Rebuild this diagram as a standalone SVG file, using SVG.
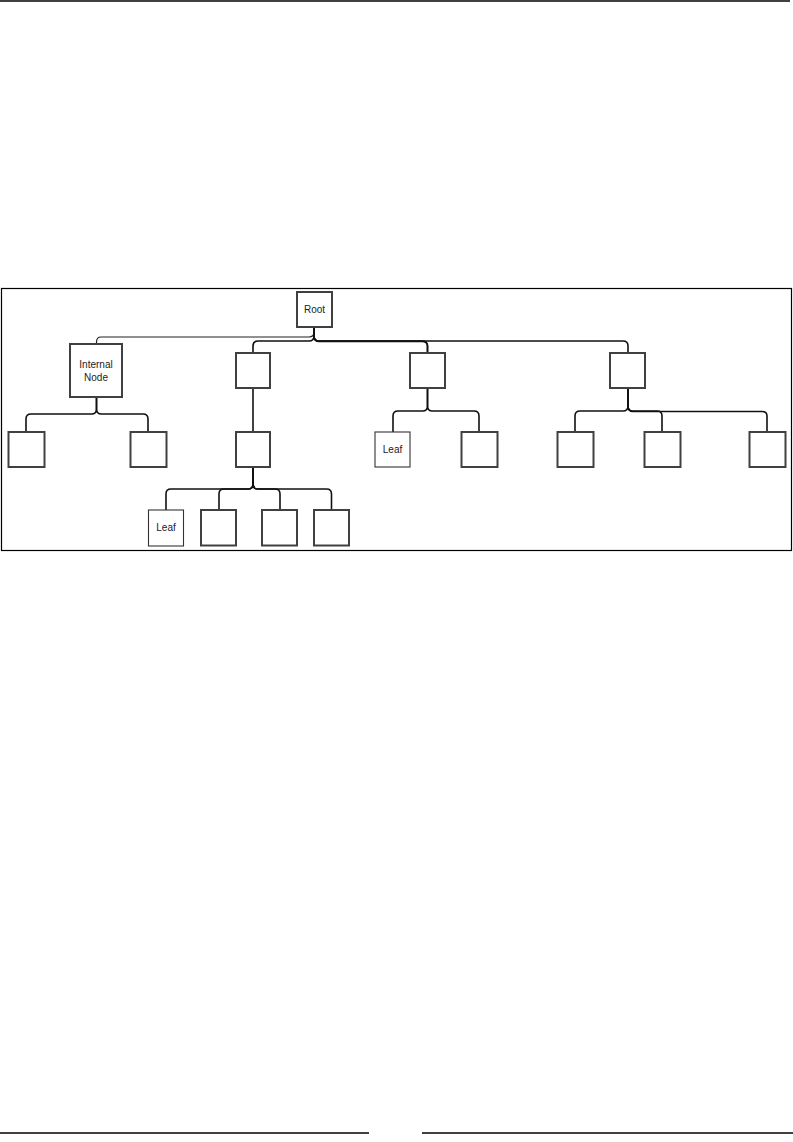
<svg xmlns="http://www.w3.org/2000/svg" width="793" height="1142" viewBox="0 0 793 1142">
<style>
.node{fill:#fff;stroke:#404040;stroke-width:2}
.leaf{fill:#fff;stroke:#333;stroke-width:1.1}
.edge{fill:none;stroke:#111;stroke-width:1.6}
.thin{fill:none;stroke:#222;stroke-width:1.2}
.lbl{font-family:"Liberation Sans",Arial,sans-serif;font-size:10px;fill:#222;text-anchor:middle}
.rule{stroke:#000;stroke-width:1.3}
</style>
<rect width="793" height="1142" fill="#fff"/>
<line class="rule" x1="0" y1="1" x2="790" y2="1"/>
<line class="rule" x1="0" y1="1133" x2="369" y2="1133"/>
<line class="rule" x1="422" y1="1133" x2="793" y2="1133"/>
<rect x="1.5" y="288.5" width="790" height="262" fill="none" stroke="#000" stroke-width="1.2"/>
<g id="connectors">
<path class="thin" d="M314 327 V332 Q314 337 309 337 H101 Q96.5 337 96.5 342 V344"/>
<path class="edge" d="M314 327 V336 Q314 341 309 341 H258 Q253 341 253 346 V353"/>
<path class="edge" d="M314 327 V336 Q314 341 319 341 H422 Q427.5 341 427.5 346 V353"/>
<path class="edge" d="M314 327 V336 Q314 341.5 319 341.5 H422 Q427.5 341.5 427.5 346 V353"/>
<path class="edge" d="M314 327 V336 Q314 341 319 341 H623 Q628 341 628 346 V353"/>
<path class="edge" d="M96.5 397 V409 Q96.5 414 91.5 414 H31 Q26 414 26 419 V432"/>
<path class="edge" d="M96.5 397 V409 Q96.5 414 101.5 414 H143 Q148 414 148 419 V432"/>
<path class="edge" d="M253 388 V432"/>
<path class="edge" d="M427.5 388 V406 Q427.5 411 422.5 411 H398 Q393 411 393 416 V432"/>
<path class="edge" d="M427.5 388 V406 Q427.5 411 432.5 411 H474 Q479 411 479 416 V432"/>
<path class="edge" d="M628 388 V406 Q628 411 623 411 H580 Q575 411 575 416 V432"/>
<path class="edge" d="M628 388 V406 Q628 411 633 411 H657 Q662 411 662 416 V432"/>
<path class="edge" d="M628 388 V406 Q628 411.5 633 411.5 H762 Q767 411.5 767 416 V432"/>
<path class="edge" d="M253 467 V484 Q253 489 248 489 H171 Q166 489 166 494 V510"/>
<path class="edge" d="M253 467 V484 Q253 489 248 489 H224 Q219 489 219 494 V510"/>
<path class="edge" d="M253 467 V484 Q253 489 258 489 H275 Q280 489 280 494 V510"/>
<path class="edge" d="M253 467 V484 Q253 489 258 489 H326.5 Q331.5 489 331.5 494 V510"/>
</g>
<g id="root"><rect class="node" x="297" y="292" width="35" height="35"/><text class="lbl" x="314.5" y="312.5">Root</text></g>
<g id="internal-node"><rect class="node" x="70" y="344" width="52" height="53"/><text class="lbl" x="96" y="368">Internal</text><text class="lbl" x="96" y="381">Node</text></g>
<g id="n2"><rect class="node" x="236" y="353" width="34" height="35"/></g>
<g id="n3"><rect class="node" x="410" y="353" width="35" height="35"/></g>
<g id="n4"><rect class="node" x="610" y="353" width="35" height="35"/></g>
<g id="l3a"><rect class="node" x="8.5" y="432" width="36" height="35"/></g>
<g id="l3b"><rect class="node" x="130.5" y="432" width="36" height="35"/></g>
<g id="l3c"><rect class="node" x="236" y="432" width="34" height="35"/></g>
<g id="leaf1"><rect class="leaf" x="375" y="432" width="35" height="35"/><text class="lbl" x="392.5" y="453">Leaf</text></g>
<g id="l3e"><rect class="node" x="461.5" y="432" width="36" height="35"/></g>
<g id="l3f"><rect class="node" x="557.5" y="432" width="36" height="35"/></g>
<g id="l3g"><rect class="node" x="644.5" y="432" width="36" height="35"/></g>
<g id="l3h"><rect class="node" x="749.5" y="432" width="36" height="35"/></g>
<g id="leaf2"><rect class="leaf" x="148.5" y="510" width="35" height="36"/><text class="lbl" x="166" y="531">Leaf</text></g>
<g id="l4b"><rect class="node" x="201" y="510" width="35" height="35.5"/></g>
<g id="l4c"><rect class="node" x="262" y="510" width="35" height="35.5"/></g>
<g id="l4d"><rect class="node" x="314" y="510" width="35" height="35.5"/></g>
</svg>
